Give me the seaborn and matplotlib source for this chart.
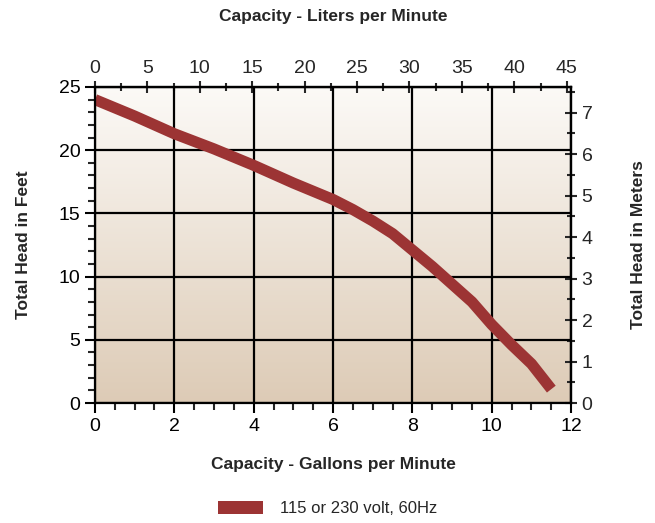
import numpy as np
import pandas as pd
import matplotlib
matplotlib.use("Agg")
import matplotlib.pyplot as plt
from matplotlib.patches import Patch
from matplotlib.ticker import MultipleLocator
import seaborn as sns

# pump curve
gpm = [0, 1, 2, 3, 4, 5, 6, 6.5, 7, 7.5, 8, 8.5, 9, 9.5, 10, 10.5, 11, 11.5]
head_ft = [24.0, 22.7, 21.3, 20.1, 18.8, 17.4, 16.1, 15.3, 14.4, 13.4, 12.1, 10.8, 9.4, 8.0, 6.2, 4.6, 3.1, 1.1]
series_label = "115 or 230 volt, 60Hz"

GAL_TO_L = 3.785
FT_TO_M = 0.3048
line_color = "#9c3434"

sns.set_style("ticks")
plt.rcParams["font.family"] = ["Liberation Sans", "DejaVu Sans"]

fig = plt.figure(figsize=(6.55, 5.23), dpi=100)
ax = fig.add_axes([0.145, 0.2294, 0.727, 0.6043])

# background gradient (light top, tan bottom)
top = np.array([252, 250, 247]) / 255
bot = np.array([221, 203, 182]) / 255
t = np.linspace(0, 1, 256)[:, None]
grad = (top * (1 - t) + bot * t)[:, None, :]
ax.imshow(grad, extent=[0, 12, 0, 25], aspect="auto", zorder=0, origin="upper")

df = pd.DataFrame({"gpm": gpm, "ft": head_ft})
sns.lineplot(data=df, x="gpm", y="ft", ax=ax, color=line_color, lw=8,
             solid_capstyle="butt", zorder=3, legend=False)

ax.set_xlim(0, 12)
ax.set_ylim(0, 25)
ax.xaxis.set_major_locator(MultipleLocator(2))
ax.xaxis.set_minor_locator(MultipleLocator(0.5))
ax.yaxis.set_major_locator(MultipleLocator(5))
ax.yaxis.set_minor_locator(MultipleLocator(1))
ax.grid(True, which="major", color="black", lw=1.6, zorder=1)
ax.set_axisbelow(False)
for s in ax.spines.values():
    s.set_linewidth(1.6)
    s.set_color("black")
    s.set_zorder(4)
ax.tick_params(which="major", length=7, width=1.5, labelsize=14, colors="black", direction="out")
ax.tick_params(which="minor", length=5, width=1.5, direction="out")

ax.set_xlabel("Capacity - Gallons per Minute", fontsize=12.5, fontweight="bold", labelpad=16)
ax.set_ylabel("Total Head in Feet", fontsize=12.5, fontweight="bold", labelpad=20)

# top axis: liters per minute
sec_x = ax.secondary_xaxis("top", functions=(lambda x: x * GAL_TO_L, lambda x: x / GAL_TO_L))
sec_x.xaxis.set_major_locator(MultipleLocator(5))
sec_x.xaxis.set_minor_locator(MultipleLocator(2.5))
sec_x.tick_params(which="major", length=9, width=1.5, labelsize=14, direction="inout", pad=3)
sec_x.tick_params(which="minor", length=6, width=1.5, direction="inout")
sec_x.spines["top"].set_linewidth(1.6)
sec_x.set_xlabel("Capacity - Liters per Minute", fontsize=12.5, fontweight="bold", labelpad=28)

# right axis: meters
sec_y = ax.secondary_yaxis("right", functions=(lambda y: y * FT_TO_M, lambda y: y / FT_TO_M))
sec_y.yaxis.set_major_locator(MultipleLocator(1))
sec_y.yaxis.set_minor_locator(MultipleLocator(0.5))
sec_y.tick_params(which="major", length=9, width=1.5, labelsize=14, direction="inout", pad=3)
sec_y.tick_params(which="minor", length=6, width=1.5, direction="inout")
sec_y.spines["right"].set_linewidth(1.6)
sec_y.set_ylabel("Total Head in Meters", fontsize=12.5, fontweight="bold", labelpad=28)

handle = Patch(facecolor=line_color, edgecolor="none")
fig.legend([handle], [series_label], loc="center", bbox_to_anchor=(0.5, 0.027),
           frameon=False, fontsize=12, handlelength=2.7, handleheight=0.8, handletextpad=1.0)

fig.savefig("out.png", dpi=100)
